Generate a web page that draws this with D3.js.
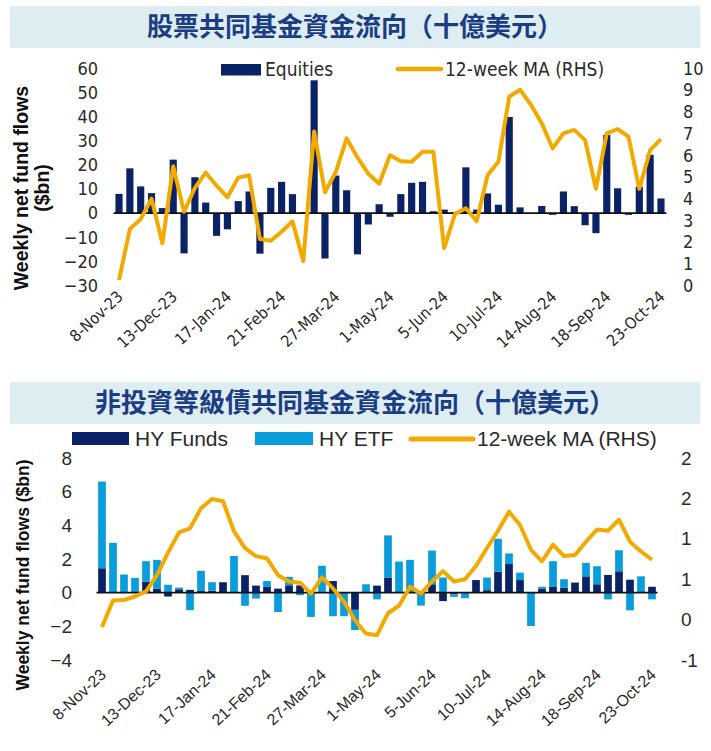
<!DOCTYPE html>
<html><head><meta charset="utf-8">
<script src="https://cdn.jsdelivr.net/npm/d3@7"></script>
<style>
body{margin:0;background:#fff}
svg{display:block}
.narrow{font-family:"Liberation Sans Narrow","DejaVu Sans Condensed","Liberation Sans",sans-serif}
.reg{font-family:"Liberation Sans","Open Sans",sans-serif}
</style>
</head><body>
<svg id="chart" width="711" height="751"></svg>
<script>
// ---------- DATA ----------
const dates = ["8-Nov-23","15-Nov-23","22-Nov-23","29-Nov-23","6-Dec-23","13-Dec-23","20-Dec-23","27-Dec-23",
"3-Jan-24","10-Jan-24","17-Jan-24","24-Jan-24","31-Jan-24","7-Feb-24","14-Feb-24","21-Feb-24","28-Feb-24",
"6-Mar-24","13-Mar-24","20-Mar-24","27-Mar-24","3-Apr-24","10-Apr-24","17-Apr-24","24-Apr-24","1-May-24",
"8-May-24","15-May-24","22-May-24","29-May-24","5-Jun-24","12-Jun-24","19-Jun-24","26-Jun-24","3-Jul-24",
"10-Jul-24","17-Jul-24","24-Jul-24","31-Jul-24","7-Aug-24","14-Aug-24","21-Aug-24","28-Aug-24","4-Sep-24",
"11-Sep-24","18-Sep-24","25-Sep-24","2-Oct-24","9-Oct-24","16-Oct-24","23-Oct-24"];
const xTickLabels = ["8-Nov-23","13-Dec-23","17-Jan-24","21-Feb-24","27-Mar-24","1-May-24","5-Jun-24",
"10-Jul-24","14-Aug-24","18-Sep-24","23-Oct-24"];

const equities = [8,18.6,11.1,8.3,2.1,22.2,-16.7,14.9,4.4,-9.4,-6.7,5,9,-16.8,10.5,13,7.9,0.4,55.1,-18.8,
15.6,9.5,-17.1,-4.7,3.7,-1.5,7.9,12.6,13,0.8,1.5,0.4,19,1.5,8.2,3.5,39.9,2.4,-0.3,3,-0.7,9,2.9,-5,-8.3,
32.5,10.3,-0.7,11,24.2,6.1];
const equitiesMA = [0.25,2.6,3.06,4.0,1.95,5.5,3.4,4.5,5.2,4.6,4.07,4.97,5.08,2.14,2.06,2.48,2.96,1.13,7.1,
4.3,5.23,6.78,5.9,5.15,4.69,6.0,5.73,5.7,6.16,6.16,1.72,3.3,3.56,2.96,5.08,5.7,8.7,9.02,8.33,7.48,6.32,
7.01,7.17,6.7,4.46,7.01,7.21,6.86,4.46,6.24,6.75];

const hyFunds = [1.45,0,0,0,0.65,0.25,-0.23,0.2,0.17,0.1,0.12,0.62,0,1.04,0.42,0.34,0.24,0.44,0.43,0,0.05,
0.69,0,-1.02,0,0.42,0.9,0,0,0,0.5,-0.5,-0.1,0,0.75,0.15,1.25,1.7,0.75,0,0.25,0.37,0.3,0.6,0.97,0.5,1.05,
1.27,0.77,0,0.35];
const hyETF = [5.15,2.96,1.08,0.88,1.22,1.7,0.47,0.1,-1.04,1.2,0.5,0,2.18,-0.78,-0.35,0.35,-1.15,0.5,-0.15,
-1.44,1.55,-1.4,-1.4,-1.2,0.5,-0.4,2.5,1.85,1.95,-0.77,2.0,0.9,-0.15,-0.33,0,0.75,1.95,0.63,0.44,-1.98,
0.1,1.5,0.5,0,0.8,1.07,-0.4,1.25,-1.05,0.97,-0.4];
const hyMA = [-0.43,0.03,0.04,0.10,0.19,0.47,0.86,1.21,1.28,1.63,1.79,1.75,1.23,0.94,0.80,0.76,0.47,0.36,
0.34,0.15,0.43,0.24,0.01,-0.31,-0.54,-0.57,-0.19,-0.06,0.27,0.15,0.36,0.54,0.36,0.40,0.63,0.94,1.24,1.57,
1.34,0.91,0.71,1.0,0.80,0.82,1.05,1.26,1.24,1.43,1.05,0.88,0.74];

const leftTicks1 = [-30,-20,-10,0,10,20,30,40,50,60];
const rightTicks1 = [0,1,2,3,4,5,6,7,8,9,10];
const leftTicks2 = [-4,-2,0,2,4,6,8];
const rightTicks2 = [-1,-0.3,0.4,1.1,1.8,2.5];
const rightTickLabels2 = ["-1","0","1","1","2","2"];

const title1 = "股票共同基金資金流向（十億美元）";
const title2 = "非投資等級債共同基金資金流向（十億美元）";

// ---------- STYLE ----------
const NAVY = "#0b2366", LIGHT = "#0a9ddb", ORANGE = "#f2a900", BANNER = "#deedf1", TITLEC = "#1b3d84", TXT = "#2a2a2a";

const svg = d3.select("#chart");

function banner(y, h, text){
  svg.append("rect").attr("x",10).attr("y",y).attr("width",690).attr("height",h).attr("fill",BANNER);
  svg.append("text").attr("x",355).attr("y",y+h/2).attr("dy","0.36em").attr("text-anchor","middle")
    .attr("font-family",'"Noto Sans CJK TC","Noto Sans CJK SC",sans-serif').attr("font-weight",700)
    .attr("font-size",26).attr("fill",TITLEC).text(text);
}
banner(6, 42, title1);
banner(382, 42, title2);

// ---------- CHART 1 ----------
const x1 = d3.scaleBand().domain(dates).range([113.6, 666.4]).paddingInner(0.34).paddingOuter(0.17);
const y1 = d3.scaleLinear().domain([-30,60]).range([285.5,68.5]);
const y1r = d3.scaleLinear().domain([0,10]).range([285.5,68.5]);

const g1 = svg.append("g");
g1.selectAll("rect.eq").data(equities).join("rect").attr("class","eq")
  .attr("x",(d,i)=>x1(dates[i])).attr("width",x1.bandwidth())
  .attr("y",d=>y1(Math.max(0,d))).attr("height",d=>Math.abs(y1(d)-y1(0))).attr("fill",NAVY);
g1.append("line").attr("x1",113.6).attr("x2",666.4).attr("y1",y1(0)).attr("y2",y1(0))
  .attr("stroke","#111").attr("stroke-width",1.6);
const line1 = d3.line().x((d,i)=>x1(dates[i])+x1.bandwidth()/2).y(d=>y1r(d));
g1.append("path").datum(equitiesMA).attr("d",line1).attr("fill","none").attr("stroke",ORANGE)
  .attr("stroke-width",4).attr("stroke-linejoin","round");

const la1 = d3.axisLeft(y1).tickValues(leftTicks1).tickSize(0).tickPadding(0).tickFormat(d3.format("d"));
const ga1 = svg.append("g").attr("transform","translate(98,0)").call(la1);
ga1.select(".domain").remove();
ga1.selectAll("text").attr("class","narrow").attr("font-size",18).attr("fill",TXT);
const ra1 = d3.axisRight(y1r).tickValues(rightTicks1).tickSize(0).tickPadding(0).tickFormat(d3.format("d"));
const gr1 = svg.append("g").attr("transform","translate(683,0)").call(ra1);
gr1.select(".domain").remove();
gr1.selectAll("text").attr("class","narrow").attr("font-size",18).attr("fill",TXT);

const xa1 = svg.append("g");
xa1.selectAll("text").data(xTickLabels).join("text").attr("class","narrow")
  .attr("font-size",16).attr("fill",TXT).attr("text-anchor","end")
  .attr("transform",d=>`translate(${x1(d)+x1.bandwidth()/2+5},${298}) rotate(-43)`)
  .text(d=>d);

const yt1 = svg.append("g").attr("transform","translate(0,188)");
yt1.append("text").attr("transform","translate(28,0) rotate(-90)").attr("text-anchor","middle")
  .attr("font-family",'"Liberation Sans",sans-serif').attr("font-weight",700).attr("font-size",19.5)
  .attr("fill","#111").text("Weekly net fund flows");
yt1.append("text").attr("transform","translate(49,0) rotate(-90)").attr("text-anchor","middle")
  .attr("font-family",'"Liberation Sans",sans-serif').attr("font-weight",700).attr("font-size",19.5)
  .attr("fill","#111").text("($bn)");

svg.append("rect").attr("x",221).attr("y",64).attr("width",40).attr("height",11.5).attr("fill",NAVY);
svg.append("text").attr("class","narrow").attr("x",265).attr("y",76).attr("font-size",19).attr("fill",TXT).text("Equities");
svg.append("line").attr("x1",398).attr("x2",441).attr("y1",69).attr("y2",69).attr("stroke",ORANGE).attr("stroke-width",4.5).attr("stroke-linecap","round");
svg.append("text").attr("class","narrow").attr("x",445).attr("y",76).attr("font-size",19).attr("fill",TXT).text("12-week MA (RHS)");

// ---------- CHART 2 ----------
const x2 = d3.scaleBand().domain(dates).range([96.5, 657.5]).paddingInner(0.3).paddingOuter(0.15);
const y2 = d3.scaleLinear().domain([-4,8]).range([660,458]);
const y2r = d3.scaleLinear().domain([-1,2.5]).range([660,458]);

const rows = dates.map((d,i)=>({date:d, funds:hyFunds[i], etf:hyETF[i]}));
const stack = d3.stack().keys(["funds","etf"]).offset(d3.stackOffsetDiverging)(rows);
const colors = {funds:NAVY, etf:LIGHT};
const g2 = svg.append("g");
g2.selectAll("g.s").data(stack).join("g").attr("class","s").attr("fill",s=>colors[s.key])
  .selectAll("rect").data(s=>s).join("rect")
  .attr("x",d=>x2(d.data.date)).attr("width",x2.bandwidth())
  .attr("y",d=>y2(Math.max(d[0],d[1]))).attr("height",d=>Math.abs(y2(d[0])-y2(d[1])));
g2.append("line").attr("x1",96.5).attr("x2",657.5).attr("y1",y2(0)).attr("y2",y2(0))
  .attr("stroke","#111").attr("stroke-width",1.6);
const line2 = d3.line().x((d,i)=>x2(dates[i])+x2.bandwidth()/2).y(d=>y2r(d));
g2.append("path").datum(hyMA).attr("d",line2).attr("fill","none").attr("stroke",ORANGE)
  .attr("stroke-width",4).attr("stroke-linejoin","round");

const la2 = d3.axisLeft(y2).tickValues(leftTicks2).tickSize(0).tickPadding(0).tickFormat(d3.format("d"));
const ga2 = svg.append("g").attr("transform","translate(72,0)").call(la2);
ga2.select(".domain").remove();
ga2.selectAll("text").attr("class","reg").attr("font-size",19).attr("fill",TXT);
const ra2 = d3.axisRight(y2r).tickValues(rightTicks2).tickSize(0).tickPadding(0)
  .tickFormat((d,i)=>rightTickLabels2[i]);
const gr2 = svg.append("g").attr("transform","translate(681,0)").call(ra2);
gr2.select(".domain").remove();
gr2.selectAll("text").attr("class","reg").attr("font-size",19).attr("fill",TXT);

const xa2 = svg.append("g");
xa2.selectAll("text").data(xTickLabels).join("text").attr("class","reg")
  .attr("font-size",16).attr("fill",TXT).attr("text-anchor","end")
  .attr("transform",d=>`translate(${x2(d)+x2.bandwidth()/2+5},${676}) rotate(-43)`)
  .text(d=>d);

svg.append("text").attr("transform","translate(29,575) rotate(-90)").attr("text-anchor","middle")
  .attr("font-family",'"Liberation Sans",sans-serif').attr("font-weight",700).attr("font-size",17.5)
  .attr("fill","#111").text("Weekly net fund flows ($bn)");

svg.append("rect").attr("x",72).attr("y",432).attr("width",57).attr("height",13).attr("fill",NAVY);
svg.append("text").attr("class","reg").attr("x",135).attr("y",446).attr("font-size",21).attr("fill",TXT).text("HY Funds");
svg.append("rect").attr("x",255).attr("y",432).attr("width",58).attr("height",13).attr("fill",LIGHT);
svg.append("text").attr("class","reg").attr("x",319).attr("y",446).attr("font-size",21).attr("fill",TXT).text("HY ETF");
svg.append("line").attr("x1",411).attr("x2",473).attr("y1",439).attr("y2",439).attr("stroke",ORANGE).attr("stroke-width",5).attr("stroke-linecap","round");
svg.append("text").attr("class","reg").attr("x",477).attr("y",446).attr("font-size",21).attr("fill",TXT).text("12-week MA (RHS)");
</script>
</body></html>
